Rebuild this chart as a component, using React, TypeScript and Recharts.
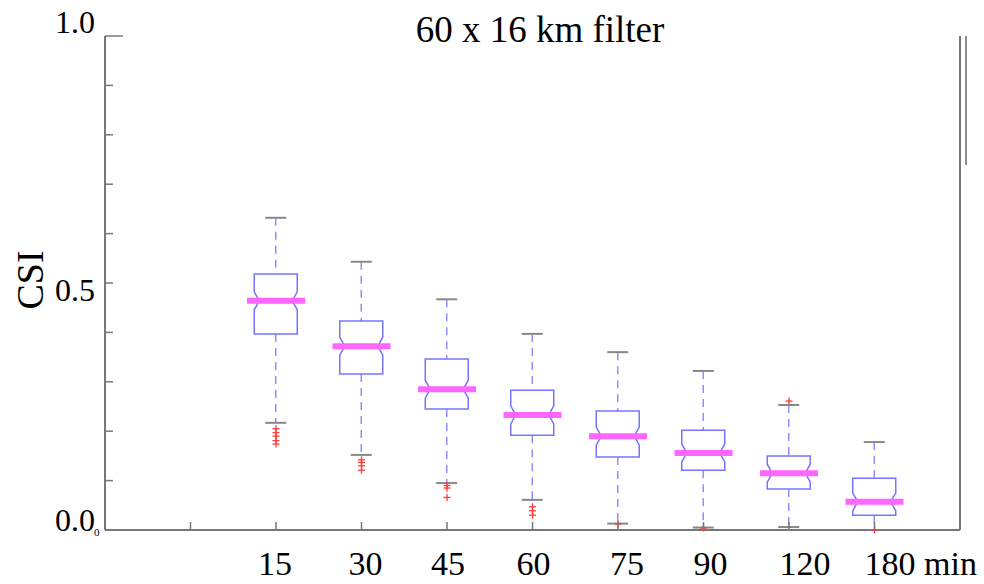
import { ComposedChart, Bar, Scatter, XAxis, YAxis } from "recharts";

// categories (lead times) and box statistics
const categories = ["15", "30", "45", "60", "75", "90", "120", "180"];
const whiskerHigh = [0.632, 0.543, 0.467, 0.397, 0.36, 0.322, 0.253, 0.178];
const q3 = [0.518, 0.423, 0.346, 0.283, 0.241, 0.202, 0.15, 0.105];
const median = [0.464, 0.372, 0.285, 0.233, 0.19, 0.156, 0.115, 0.057];
const q1 = [0.397, 0.316, 0.245, 0.192, 0.148, 0.121, 0.083, 0.03];
const whiskerLow = [0.217, 0.152, 0.095, 0.061, 0.013, 0.005, 0.006, 0.0];
const outliers = [
	[0.205, 0.197, 0.19, 0.181, 0.174],
	[0.142, 0.137, 0.13, 0.121],
	[0.09, 0.085, 0.066],
	[0.047, 0.039, 0.03],
	[0.012],
	[0.004],
	[0.261],
	[0.0],
];
const yTicks = [0, 0.1, 0.2, 0.3, 0.4, 0.5, 0.6, 0.7, 0.8, 0.9, 1.0];
const yLabels: Record<string, string> = { "0": "0.0", "0.5": "0.5", "1": "1.0" };

const FONT = '"Liberation Serif", "Times New Roman", serif';
const AXIS = "#777";
const BOX_W = 43;
const NOTCH = 5;

// first slot is an empty position (tick only), as in the original axis
const rows = [
	{ name: "" },
	...categories.map((name, i) => {
		const row: any = {
			name,
			med: median[i],
			lowWhisker: [whiskerLow[i], q1[i]],
			lowBox: [q1[i], median[i]],
			highBox: [median[i], q3[i]],
			highWhisker: [q3[i], whiskerHigh[i]],
		};
		outliers[i].forEach((v, k) => {
			row[`o${k}`] = v;
		});
		return row;
	}),
];
const outlierKeys = [0, 1, 2, 3, 4].map((k) => `o${k}`);
const labelDx = [0, -1, 4, 1, 1, 9, 7, 16, 0];

function whisker(upper: boolean) {
	return (props: any) => {
		const { x, y, width, height, payload } = props;
		if (payload?.med == null || !Number.isFinite(y)) return <g />;
		const cx = x + width / 2;
		const capY = upper ? y : y + height;
		return (
			<g>
				<line x1={cx} x2={cx} y1={y} y2={y + height} stroke="#8f8fff" strokeWidth={1.5} strokeDasharray="8 6" />
				<line x1={cx - 10.5} x2={cx + 10.5} y1={capY} y2={capY} stroke="#888" strokeWidth={2} />
			</g>
		);
	};
}

function boxHalf(upper: boolean) {
	return (props: any) => {
		const { x, y, width, height, payload } = props;
		if (payload?.med == null || !Number.isFinite(y)) return <g />;
		const xl = x;
		const xr = x + width;
		const h = Math.min(9, height);
		const pts = upper
			? [[xl + NOTCH, y + height], [xl, y + height - h], [xl, y], [xr, y], [xr, y + height - h], [xr - NOTCH, y + height]]
			: [[xl + NOTCH, y], [xl, y + h], [xl, y + height], [xr, y + height], [xr, y + h], [xr - NOTCH, y]];
		return <polyline points={pts.map((p) => p.join(",")).join(" ")} fill="none" stroke="#7575ff" strokeWidth={1.5} />;
	};
}

const MedianShape = (props: any) => {
	const { cx, cy, payload } = props;
	if (payload?.med == null || !Number.isFinite(cy)) return <g />;
	return <line x1={cx - 29} x2={cx + 29} y1={cy} y2={cy} stroke="#ff66ff" strokeWidth={6} />;
};

const OutlierShape = (props: any) => {
	const { cx, cy } = props;
	if (!Number.isFinite(cy) || !Number.isFinite(cx)) return <g />;
	return (
		<g stroke="#ff3b3b" strokeWidth={1.3}>
			<line x1={cx - 3.5} x2={cx + 3.5} y1={cy} y2={cy} />
			<line x1={cx} x2={cx} y1={cy - 3.5} y2={cy + 3.5} />
		</g>
	);
};

const XTick = (props: any) => {
	const { x, y, payload, index } = props;
	const last = index === rows.length - 1;
	return (
		<g>
			<line x1={x} x2={x} y1={y} y2={y - 8} stroke={AXIS} strokeWidth={1.5} />
			{payload.value !== "" && (
				<text
					x={last ? x - 10 : x + labelDx[index]}
					y={y + 45}
					textAnchor={last ? "start" : "middle"}
					fontFamily={FONT}
					fontSize={34}
					fill="#000"
				>
					{last ? `${payload.value} min` : payload.value}
				</text>
			)}
		</g>
	);
};

const LeftTick = (props: any) => {
	const { x, y, payload } = props;
	const label = yLabels[String(payload.value)];
	const dy = payload.value === 1 ? -3 : payload.value === 0.5 ? 18 : 1;
	return (
		<g>
			<line x1={x} x2={x + (payload.value === 1 ? 18 : 8)} y1={y} y2={y} stroke={AXIS} strokeWidth={1.5} />
			{label && (
				<text x={x - 10} y={y + dy} textAnchor="end" fontFamily={FONT} fontSize={32} fill="#000">
					{label}
				</text>
			)}
		</g>
	);
};

const RightTick = (props: any) => {
	const { x, y } = props;
	return <line x1={x - 8} x2={x} y1={y} y2={y} stroke={AXIS} strokeWidth={1.5} />;
};

export default function App() {
	return (
		<div style={{ position: "absolute", left: 0, top: 0, width: 984, height: 584, background: "#fff" }}>
			<ComposedChart
				width={984}
				height={584}
				data={rows}
				margin={{ top: 36, right: 0, bottom: 0, left: 45 }}
				barSize={BOX_W}
				barGap={-BOX_W}
			>
				<XAxis
					dataKey="name"
					type="category"
					interval={0}
					height={54}
					padding={{ left: 42.75, right: 42.75 }}
					axisLine={{ stroke: AXIS, strokeWidth: 2 }}
					tickLine={false}
					tickSize={0}
					tickMargin={0}
					tick={<XTick />}
				/>
				<YAxis
					yAxisId="left"
					type="number"
					domain={[0, 1]}
					ticks={yTicks}
					width={60}
					axisLine={{ stroke: AXIS, strokeWidth: 2 }}
					tickLine={false}
					tickSize={0}
					tickMargin={0}
					tick={<LeftTick />}
					label={{
						value: "CSI",
						content: (p: any) => {
							const vb = p.viewBox || { x: 45, y: 36, height: 494 };
							const cx = vb.x - 15;
							const cy = vb.y + vb.height / 2 - 3;
							return (
								<text
									x={cx}
									y={cy}
									transform={`rotate(-90 ${cx} ${cy})`}
									textAnchor="middle"
									dominantBaseline="central"
									fontFamily={FONT}
									fontSize={38}
									fill="#000"
								>
									CSI
								</text>
							);
						},
					}}
				/>
				<YAxis
					yAxisId="right"
					orientation="right"
					type="number"
					domain={[0, 1]}
					ticks={yTicks}
					width={24}
					axisLine={{ stroke: AXIS, strokeWidth: 2 }}
					tickLine={false}
					tickSize={0}
					tickMargin={0}
					tick={<RightTick />}
				/>
				<Bar yAxisId="left" dataKey="lowWhisker" isAnimationActive={false} shape={whisker(false)} />
				<Bar yAxisId="left" dataKey="highWhisker" isAnimationActive={false} shape={whisker(true)} />
				<Bar yAxisId="left" dataKey="lowBox" isAnimationActive={false} shape={boxHalf(false)} />
				<Bar yAxisId="left" dataKey="highBox" isAnimationActive={false} shape={boxHalf(true)} />
				<Scatter yAxisId="left" dataKey="med" isAnimationActive={false} shape={<MedianShape />} />
				{outlierKeys.map((k) => (
					<Scatter key={k} yAxisId="left" dataKey={k} isAnimationActive={false} shape={<OutlierShape />} />
				))}
			</ComposedChart>
			<svg width={984} height={584} style={{ position: "absolute", left: 0, top: 0, pointerEvents: "none" }}>
				<text x={540} y={42} textAnchor="middle" fontFamily={FONT} fontSize={37} fill="#000">
					60 x 16 km filter
				</text>
				<text x={94} y={536} fontFamily={FONT} fontSize={11} fill="#000">
					0
				</text>
				<line x1={966} x2={966} y1={36} y2={165} stroke="#666" strokeWidth={1.5} />
			</svg>
		</div>
	);
}
